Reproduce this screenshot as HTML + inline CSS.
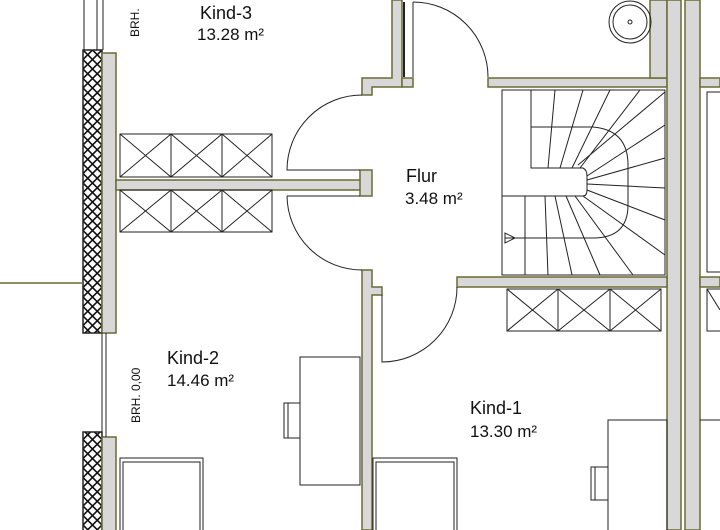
<!DOCTYPE html>
<html><head><meta charset="utf-8"><style>
html,body{margin:0;padding:0;background:#fff;width:720px;height:530px;overflow:hidden}
text{font-family:"Liberation Sans",sans-serif;fill:#111}
</style></head><body>
<svg width="720" height="530" viewBox="0 0 720 530" xmlns="http://www.w3.org/2000/svg">
<defs>
<pattern id="h" x="83" y="50" width="9.5" height="9.5" patternUnits="userSpaceOnUse">
<rect width="9.5" height="9.5" fill="#fff"/>
<path d="M0 0L9.5 9.5M9.5 0L0 9.5" stroke="#111" stroke-width="1.6"/>
</pattern>
</defs>
<g stroke="#6b6b35" stroke-width="1.5" fill="#d8d8d8">
<rect x="83" y="50" width="19" height="283" fill="url(#h)" stroke="#222"/>
<rect x="83" y="432" width="19" height="100" fill="url(#h)" stroke="#222"/>
<rect x="102" y="53" width="14" height="280"/>
<rect x="102" y="437" width="14" height="95"/>
<rect x="116" y="180" width="246" height="10"/>
<rect x="360" y="170" width="12" height="26"/>
<path d="M392 0 V78 H362 V95 H372 V87 H402 V0 Z"/>
<path d="M402 78 H413 V87 H402Z"/>
<rect x="488" y="78" width="179" height="9"/>
<rect x="650" y="0" width="17" height="78"/>
<rect x="667" y="0" width="14" height="530"/>
<rect x="685" y="0" width="15" height="530"/>
<rect x="700" y="78" width="20" height="9"/>
<rect x="700" y="277" width="20" height="10"/>
<rect x="457" y="277" width="210" height="10"/>
<path d="M362 270 H372 V287 H382 V295 H372 V530 H362 Z"/>
</g>
<line x1="0" y1="283" x2="83" y2="283" stroke="#6b6b35" stroke-width="1.5"/>
<g stroke="#222" stroke-width="1" fill="none">
<line x1="84" y1="0" x2="84" y2="50"/><line x1="97" y1="0" x2="97" y2="50"/><line x1="103" y1="0" x2="103" y2="50"/>
<line x1="102" y1="333" x2="102" y2="437"/><line x1="106" y1="333" x2="106" y2="437"/>
<rect x="120" y="134" width="152" height="43"/>
<path d="M171 134V177M222 134V177M120 134L171 177M171 134L120 177M171 134L222 177M222 134L171 177M222 134L272 177M272 134L222 177"/>
<rect x="120" y="190" width="152" height="42"/>
<path d="M171 190V232M222 190V232M120 190L171 232M171 190L120 232M171 190L222 232M222 190L171 232M222 190L272 232M272 190L222 232"/>
<rect x="507" y="289" width="154" height="42"/>
<path d="M558 289V331M610 289V331M507 289L558 331M558 289L507 331M558 289L610 331M610 289L558 331M610 289L661 331M661 289L610 331"/>
<path d="M362 95 A75 75 0 0 0 287 170 H360"/>
<path d="M287 196 A75 75 0 0 0 362 270"/><line x1="287" y1="196" x2="360" y2="196"/>
<path d="M413 2 A75 75 0 0 1 488 77"/><line x1="404" y1="2" x2="404" y2="77" stroke-width="2"/><line x1="413" y1="2" x2="413" y2="77"/>
<path d="M457 287 A75 75 0 0 1 382 362 V295"/>
<circle cx="630" cy="22" r="21"/><circle cx="630" cy="22" r="17"/><circle cx="630" cy="22" r="2"/>
<rect x="502" y="90" width="163" height="185"/>
<path d="M531 90 V168 H583 Q587 170 587 176 V190 Q587 196 583 196 H502"/>
<path d="M531 127 H593 Q628 130 628 165 V205 Q628 238 593 238 H505"/>
<path d="M515 238 L505 233 V243 Z"/>
<g>
<line x1="555" y1="90" x2="548" y2="168"/><line x1="583" y1="90" x2="560" y2="168"/>
<line x1="610" y1="90" x2="572" y2="168"/><line x1="640" y1="90" x2="580" y2="168"/>
<line x1="665" y1="92" x2="578" y2="165"/>
<line x1="665" y1="125" x2="587" y2="176"/><line x1="665" y1="158" x2="587" y2="180"/>
<line x1="665" y1="188" x2="587" y2="184"/><line x1="665" y1="220" x2="587" y2="190"/>
<line x1="665" y1="255" x2="583" y2="196"/><line x1="633" y1="275" x2="575" y2="196"/>
<line x1="600" y1="275" x2="566" y2="196"/><line x1="572" y1="275" x2="555" y2="196"/>
<line x1="548" y1="275" x2="545" y2="196"/><line x1="525" y1="275" x2="525" y2="196"/>
</g>
<rect x="707" y="92" width="20" height="180"/>
<rect x="707" y="289" width="20" height="42"/><line x1="707" y1="289" x2="720" y2="310"/>
<rect x="300" y="357" width="60" height="128"/>
<path d="M300 403 H284 V438 H300 M288 403 V438"/>
<rect x="120" y="458" width="83" height="80"/><rect x="123" y="462" width="77" height="80"/>
<rect x="373" y="458" width="84" height="80"/><rect x="376" y="462" width="78" height="80"/>
<rect x="608" y="420" width="59" height="115"/>
<path d="M608 467 H591 V500 H608 M595 467 V500"/>
<line x1="700" y1="420" x2="720" y2="420"/>
</g>
<text x="200" y="19" font-size="18">Kind-3</text>
<text x="197" y="40" font-size="17">13.28 m²</text>
<text x="406" y="182" font-size="18">Flur</text>
<text x="405" y="204" font-size="17">3.48 m²</text>
<text x="167" y="364" font-size="18">Kind-2</text>
<text x="167" y="386" font-size="17">14.46 m²</text>
<text x="470" y="414" font-size="18">Kind-1</text>
<text x="470" y="437" font-size="17">13.30 m²</text>
<text transform="translate(139,37) rotate(-90)" font-size="12">BRH.</text>
<text transform="translate(140,423) rotate(-90)" font-size="12">BRH. 0,00</text>
</svg>
</body></html>
